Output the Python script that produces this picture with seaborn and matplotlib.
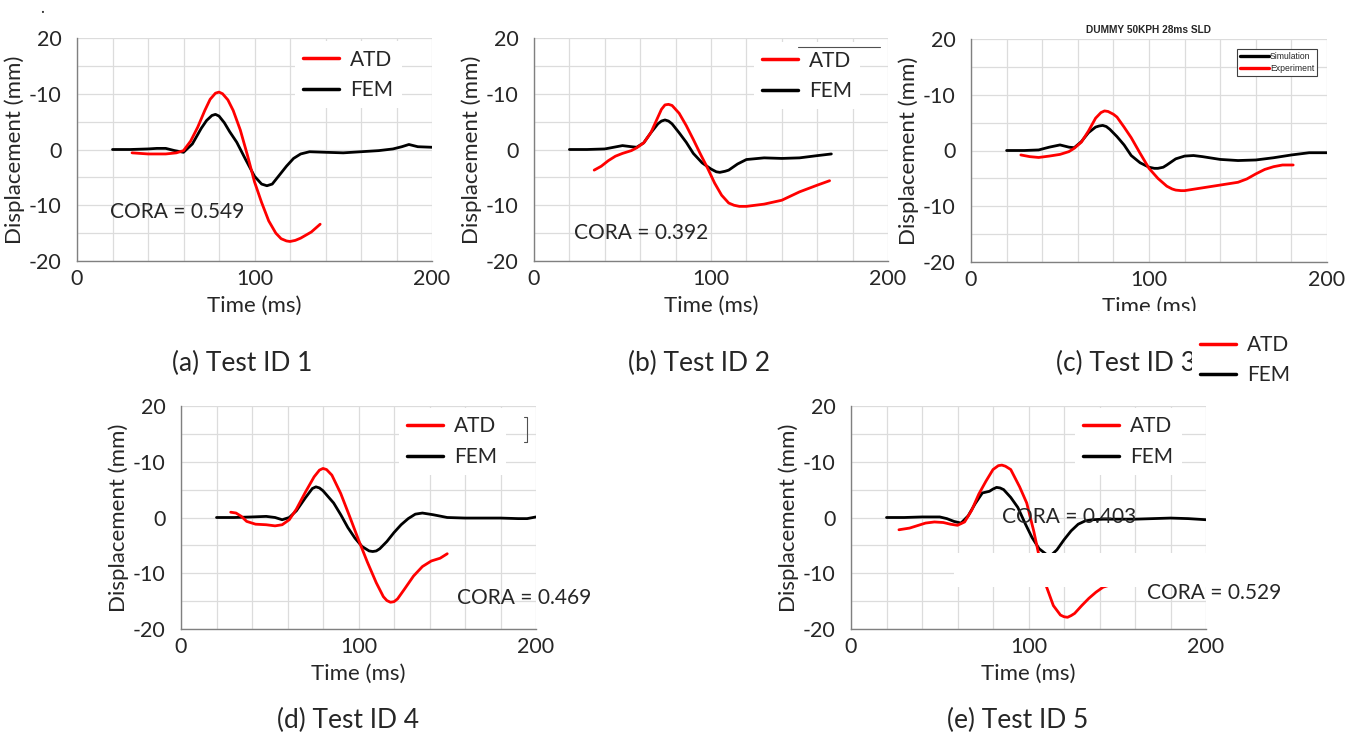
import numpy as np
import pandas as pd
import matplotlib.pyplot as plt
import seaborn as sns
from matplotlib.lines import Line2D
from matplotlib.patches import Rectangle

# (a) Test ID 1
a_fem_t = [20, 30, 40, 45, 50, 55, 60, 65, 70, 73, 76, 78, 80, 83, 86, 90, 95, 100, 104, 107, 110, 114, 118, 122, 126, 131, 140, 150, 160, 170, 178, 183, 187, 192, 200]
a_fem_y = [0, 0, 0.1, 0.2, 0.2, -0.2, -0.5, 1.0, 3.8, 5.2, 6.1, 6.3, 6.0, 4.8, 3.2, 1.3, -1.8, -4.8, -6.2, -6.5, -6.2, -4.6, -3.0, -1.6, -0.8, -0.4, -0.5, -0.6, -0.4, -0.2, 0.1, 0.5, 0.9, 0.5, 0.4]
a_atd_t = [31, 40, 50, 56, 60, 64, 68, 72, 75, 78, 80, 82, 85, 88, 92, 96, 100, 104, 108, 112, 115, 118, 120, 123, 126, 132, 137]
a_atd_y = [-0.6, -0.8, -0.8, -0.6, -0.2, 1.5, 4.0, 7.0, 9.0, 10.1, 10.3, 10.0, 8.9, 7.0, 3.5, -1.0, -5.8, -9.5, -12.8, -15.0, -16.0, -16.4, -16.5, -16.3, -15.9, -14.8, -13.4]

# (b) Test ID 2
b_fem_t = [20, 30, 40, 45, 50, 55, 58, 62, 66, 70, 72, 74, 76, 78, 82, 86, 90, 95, 100, 103, 105, 108, 110, 115, 120, 130, 140, 150, 160, 168]
b_fem_y = [0, 0, 0.1, 0.4, 0.7, 0.5, 0.4, 1.2, 3.0, 4.6, 5.1, 5.3, 5.1, 4.6, 3.0, 1.3, -0.7, -2.4, -3.5, -4.0, -4.1, -3.9, -3.7, -2.6, -1.8, -1.5, -1.6, -1.5, -1.1, -0.8]
b_atd_t = [34, 38, 42, 46, 50, 55, 58, 62, 66, 70, 72, 74, 76, 78, 82, 86, 90, 94, 98, 102, 106, 110, 113, 116, 120, 130, 140, 150, 160, 167]
b_atd_y = [-3.7, -3.0, -2.0, -1.2, -0.7, -0.2, 0.3, 1.2, 3.0, 5.8, 7.2, 8.0, 8.1, 7.9, 6.5, 4.3, 1.8, -0.8, -3.3, -6.0, -8.2, -9.6, -10.0, -10.2, -10.2, -9.8, -9.1, -7.6, -6.4, -5.6]

# (c) Test ID 3
c_fem_t = [20, 30, 38, 44, 50, 55, 58, 62, 66, 70, 72, 74, 76, 78, 82, 86, 90, 95, 100, 103, 105, 108, 110, 115, 120, 125, 130, 140, 150, 160, 170, 180, 190, 200]
c_fem_y = [0, 0, 0.1, 0.6, 1.0, 0.6, 0.5, 1.6, 3.2, 4.2, 4.4, 4.5, 4.3, 3.8, 2.5, 1.0, -0.9, -2.2, -3.0, -3.2, -3.2, -3.0, -2.6, -1.5, -1.0, -0.9, -1.1, -1.6, -1.8, -1.7, -1.3, -0.8, -0.4, -0.4]
c_atd_t = [28, 33, 38, 44, 50, 55, 58, 62, 66, 70, 73, 75, 77, 80, 82, 86, 90, 95, 100, 105, 110, 113, 115, 118, 120, 130, 140, 150, 155, 160, 165, 170, 175, 181]
c_atd_y = [-0.8, -1.1, -1.25, -1.0, -0.7, -0.2, 0.4, 1.5, 3.5, 5.8, 6.8, 7.1, 7.0, 6.5, 6.0, 4.2, 2.3, -0.5, -3.2, -5.0, -6.4, -6.9, -7.1, -7.2, -7.2, -6.7, -6.2, -5.7, -5.1, -4.2, -3.4, -2.9, -2.6, -2.6]

# (d) Test ID 4
d_fem_t = [20, 30, 40, 48, 53, 57, 61, 65, 70, 74, 76, 78, 80, 86, 90, 94, 98, 102, 106, 108, 110, 112, 116, 120, 124, 128, 132, 136, 142, 150, 160, 170, 180, 190, 195, 200]
d_fem_y = [0, 0, 0.1, 0.2, 0, -0.4, 0, 1.2, 3.5, 5.2, 5.5, 5.3, 4.8, 2.6, 0.5, -1.8, -3.7, -5.2, -6.0, -6.1, -6.0, -5.6, -4.3, -2.7, -1.3, -0.2, 0.6, 0.8, 0.5, 0, -0.1, -0.1, -0.1, -0.2, -0.2, 0.1]
d_atd_t = [28, 31, 34, 37, 42, 48, 53, 57, 61, 65, 70, 75, 78, 80, 82, 85, 90, 95, 100, 105, 110, 114, 116, 118, 120, 122, 126, 131, 136, 141, 146, 150]
d_atd_y = [0.95, 0.8, 0.2, -0.7, -1.2, -1.3, -1.5, -1.3, -0.4, 1.5, 4.5, 7.3, 8.5, 8.8, 8.6, 7.6, 4.3, 0.2, -4.0, -8.0, -11.7, -14.2, -14.9, -15.2, -15.1, -14.6, -12.8, -10.5, -8.8, -7.8, -7.3, -6.5]

# (e) Test ID 5
e_fem_t = [20, 30, 40, 50, 54, 58, 62, 66, 70, 74, 78, 80, 82, 84, 86, 90, 94, 98, 102, 106, 110, 113, 116, 120, 124, 128, 132, 136, 142, 150, 160, 170, 180, 190, 200]
e_fem_y = [0, 0, 0.1, 0.1, -0.2, -0.7, -1.0, 0.3, 2.5, 4.4, 4.7, 5.1, 5.4, 5.3, 5.0, 3.6, 1.8, -1.0, -3.6, -5.6, -6.6, -6.7, -5.8, -4.0, -2.4, -1.2, -0.6, -0.4, -0.3, -0.3, -0.3, -0.2, -0.1, -0.2, -0.4]
e_atd_t = [27, 33, 38, 42, 47, 52, 56, 60, 64, 68, 72, 76, 80, 83, 85, 87, 90, 95, 99, 103, 107, 110, 114, 118, 120, 122, 124, 126, 130, 134, 138, 142, 145]
e_atd_y = [-2.2, -1.9, -1.4, -1.0, -0.8, -0.9, -1.2, -1.4, -0.8, 1.3, 4.2, 6.5, 8.6, 9.3, 9.4, 9.2, 8.6, 5.5, 2.6, -2.5, -8.5, -12.3, -15.8, -17.5, -17.8, -17.9, -17.6, -17.2, -15.8, -14.5, -13.4, -12.5, -12.2]

y_ticks = [-20, -10, 0, 10, 20]
y_tick_labels = ["-20", "-10", "0", "-10", "20"]
x_ticks = [0, 100, 200]
captions = ["(a) Test ID 1", "(b) Test ID 2", "(c) Test ID 3", "(d) Test ID 4", "(e) Test ID 5"]
cora_text = ["CORA = 0.549", "CORA = 0.392", "CORA = 0.469", "CORA = 0.403", "CORA = 0.529"]

sns.set_style("white")
plt.rcParams["font.family"] = ["Lato", "DejaVu Sans"]

W, H = 1365, 740
fig = plt.figure(figsize=(13.65, 7.40), dpi=100)


def px_axes(l, t, r, b):
    return fig.add_axes([l / W, 1 - b / H, (r - l) / W, (b - t) / H])


def draw_panel(ax, fem_t, fem_y, atd_t, atd_y):
    fem = pd.DataFrame({"t": fem_t, "y": fem_y})
    atd = pd.DataFrame({"t": atd_t, "y": atd_y})
    sns.lineplot(data=fem, x="t", y="y", ax=ax, color="black", lw=2.0, sort=False, estimator=None)
    sns.lineplot(data=atd, x="t", y="y", ax=ax, color="#ff0000", lw=2.0, sort=False, estimator=None)
    ax.set_xlim(0, 200)
    ax.set_ylim(-20, 20)
    ax.set_xticks(x_ticks)
    ax.set_xticks(np.arange(0, 201, 20), minor=True)
    ax.set_yticks(y_ticks)
    ax.set_yticklabels(y_tick_labels)
    ax.set_yticks(np.arange(-20, 21, 5), minor=True)
    ax.grid(True, which="both", color="#dcdcdc", lw=0.9)
    ax.set_axisbelow(True)
    for s in ["top", "right"]:
        ax.spines[s].set_visible(False)
    for s in ["left", "bottom"]:
        ax.spines[s].set_color("#808080")
        ax.spines[s].set_linewidth(1.0)
    ax.tick_params(which="both", direction="out", length=4, color="#808080", labelsize=15.5)
    ax.tick_params(axis="y", pad=7)
    ax.tick_params(axis="x", pad=2)
    ax.set_xlabel("Time (ms)", fontsize=16, labelpad=5)
    ax.set_ylabel("Displacement (mm)", fontsize=16, labelpad=3)


def atd_fem_legend(ax, x, y):
    h = [Line2D([], [], color="#ff0000", lw=2.5), Line2D([], [], color="black", lw=2.5)]
    leg = ax.legend(h, ["ATD", "FEM"], loc="center left", bbox_to_anchor=(x, y), fontsize=15,
                    frameon=True, facecolor="white", edgecolor="none", framealpha=1, fancybox=False,
                    handlelength=1.7, handletextpad=0.55, labelspacing=0.5, borderpad=0.4, borderaxespad=0)
    return leg


ax_a = px_axes(77, 38, 432, 261)
ax_b = px_axes(534, 38, 888, 261)
ax_c = px_axes(971, 39, 1327, 262)
ax_d = px_axes(181, 406, 536, 629)
ax_e = px_axes(851, 406, 1206, 629)

draw_panel(ax_a, a_fem_t, a_fem_y, a_atd_t, a_atd_y)
draw_panel(ax_b, b_fem_t, b_fem_y, b_atd_t, b_atd_y)
draw_panel(ax_c, c_fem_t, c_fem_y, c_atd_t, c_atd_y)
draw_panel(ax_d, d_fem_t, d_fem_y, d_atd_t, d_atd_y)
draw_panel(ax_e, e_fem_t, e_fem_y, e_atd_t, e_atd_y)

atd_fem_legend(ax_a, 0.614, 0.835)
atd_fem_legend(ax_b, 0.621, 0.83)
atd_fem_legend(ax_d, 0.614, 0.84)
atd_fem_legend(ax_e, 0.631, 0.84)

# panel c has its own small legend and title
ax_c.set_title("DUMMY 50KPH 28ms SLD", fontsize=7.3, fontweight="bold",
               family=["Liberation Sans", "DejaVu Sans"], pad=4)
hc = [Line2D([], [], color="black", lw=2.4), Line2D([], [], color="#ff0000", lw=2.4)]
ax_c.legend(hc, ["Simulation", "Experiment"], loc="upper right", bbox_to_anchor=(0.972, 0.955),
            prop={"family": ["Liberation Sans", "DejaVu Sans"], "size": 6.2}, frameon=True,
            edgecolor="#404040", facecolor="white", framealpha=1, fancybox=False,
            handlelength=3.4, handletextpad=0.1, labelspacing=0.35, borderpad=0.35, borderaxespad=0)
ax_c.get_legend().get_frame().set_linewidth(0.8)

# CORA values
ax_a.text(0.093, 0.22, cora_text[0], transform=ax_a.transAxes, fontsize=15, va="center")
ax_b.text(0.113, 0.126, cora_text[1], transform=ax_b.transAxes, fontsize=15, va="center")
ax_d.text(0.777, 0.139, cora_text[2], transform=ax_d.transAxes, fontsize=15, va="center", clip_on=False)
ax_e.text(0.425, 0.502, cora_text[3], transform=ax_e.transAxes, fontsize=15, va="center", zorder=6)

# white block pasted over panel e, then the second CORA value
fig.add_artist(Rectangle((954 / W, 1 - 587 / H), 256 / W, 34 / H, transform=fig.transFigure,
                         facecolor="white", edgecolor="none", zorder=5))
fig.text(1147 / W, 1 - 593 / H, cora_text[4], fontsize=15, va="center", zorder=6)

# captions
cap_pos = [(172, 363), (628, 363), (1056, 363), (277, 720), (947, 720)]
for (cx, cy), c in zip(cap_pos, captions):
    fig.text(cx / W, 1 - cy / H, c, fontsize=19, va="center", zorder=3)

# stray legend next to caption (c)
hf = [Line2D([], [], color="#ff0000", lw=2.5), Line2D([], [], color="black", lw=2.5)]
fig.legend(hf, ["ATD", "FEM"], loc="center left", bbox_to_anchor=(1192 / W, 1 - 360 / H), fontsize=15,
           frameon=True, facecolor="white", edgecolor="none", framealpha=1, fancybox=False,
           handlelength=1.7, handletextpad=0.55, labelspacing=0.5, borderpad=0.4, borderaxespad=0)

# cropped x label on panel c
fig.add_artist(Rectangle((1080 / W, 1 - 335 / H), 140 / W, 24 / H, transform=fig.transFigure,
                         facecolor="white", edgecolor="none", zorder=5))

# leftover marks from the source figure
fig.add_artist(Line2D([798 / W, 880 / W], [1 - 47 / H, 1 - 47 / H], transform=fig.transFigure, color="#505050", lw=0.8))
fig.add_artist(Line2D([524 / W, 527 / W, 527 / W, 524 / W], [1 - 417 / H, 1 - 417 / H, 1 - 442 / H, 1 - 442 / H],
                      transform=fig.transFigure, color="#505050", lw=0.8))
fig.text(40 / W, 1 - 8 / H, ".", fontsize=12, va="center")

fig.savefig("out.png", dpi=100)
